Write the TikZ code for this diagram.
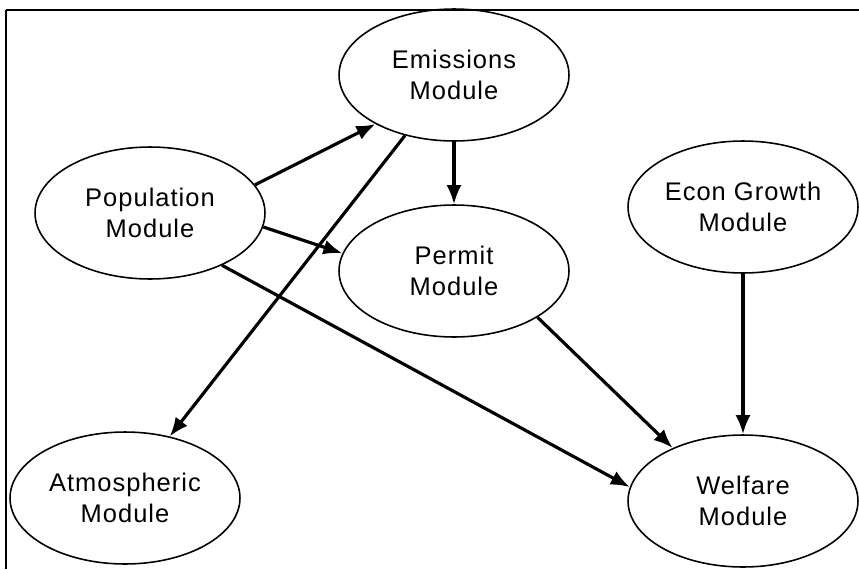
\documentclass[tikz,border=0pt]{standalone}
\usepackage{fontspec}
\setmainfont{Liberation Sans}[LetterSpace=4]
\usetikzlibrary{arrows.meta,shapes}

\begin{document}
\begin{tikzpicture}[x=0.02cm, y=-0.02cm]
      \tikzstyle{module} = [ellipse, draw, line width=0.9pt, inner sep=0pt,
                            minimum width=4.6cm, minimum height=2.64cm,
                            align=center, font=\fontsize{14.5}{18}\selectfont]
      \tikzstyle{arrow} = [draw, -{Latex[length=3.8mm,width=3mm]},
                           line width=1.8pt]
      \useasboundingbox (0,0) rectangle (859,569);
      \draw[line width=1.2pt] (6,569) -- (6,10);
      \draw[line width=1.7pt] (6,10) -- (859,10);
      \node[module] (emis) at (454,75) {Emissions\\Module};
      \node[module] (pop) at (150,213) {Population\\Module};
      \node[module] (permit) at (454,271) {Permit\\Module};
      \node[module] (econ) at (743,207) {Econ Growth\\Module};
      \node[module] (atmos) at (125,498) {Atmospheric\\Module};
      \node[module] (welf) at (743,501) {Welfare\\Module};
      \path[arrow] (pop.15) -- (emis.212);
      \path[arrow] (pop.-7) -- (permit.171);
      \path[arrow] (pop.-36) -- (welf.173);
      \path[arrow] (emis.231) -- (atmos.54);
      \path[arrow] (emis) -- (permit);
      \path[arrow] (permit.-29) -- (welf.143);
      \path[arrow] (econ) -- (welf);
    \end{tikzpicture}
\end{document}
